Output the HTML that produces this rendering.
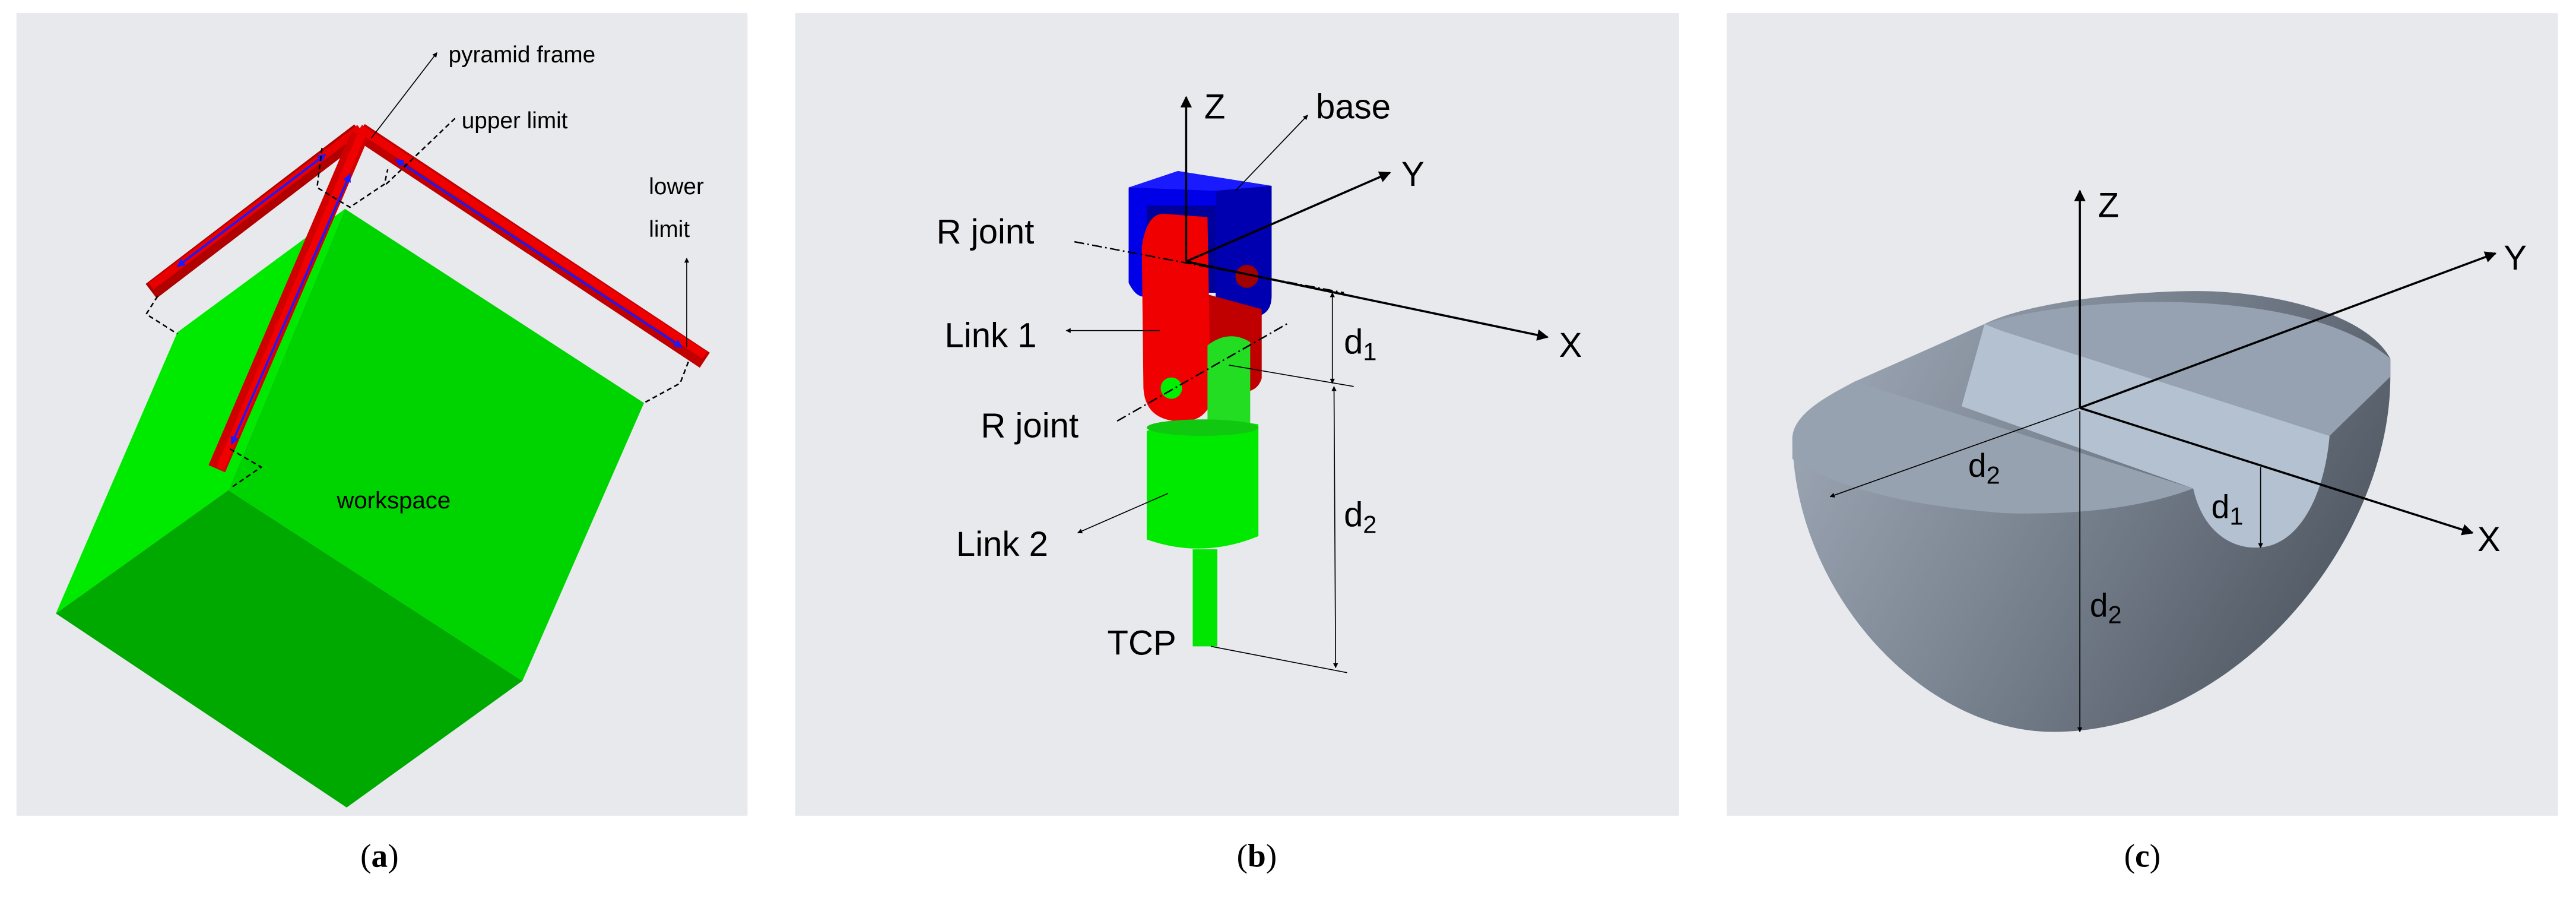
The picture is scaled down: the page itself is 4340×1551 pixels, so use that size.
<!DOCTYPE html>
<html><head><meta charset="utf-8"><style>
html,body{margin:0;padding:0;background:#fff;}
svg{display:block;}
text{font-family:"Liberation Sans",sans-serif;fill:#000;}
.cap{font-family:"Liberation Serif",serif;font-size:20px;}
</style></head><body>
<svg width="4340" height="1551" viewBox="0 0 1568 560" preserveAspectRatio="none" xmlns="http://www.w3.org/2000/svg">
<defs>
<marker id="ah" viewBox="0 0 10 10" refX="9" refY="5" markerUnits="userSpaceOnUse" markerWidth="8" markerHeight="7" orient="auto-start-reverse"><path d="M0,0L10,5L0,10z" fill="#000"/></marker>
<marker id="as" viewBox="0 0 10 10" refX="9" refY="5" markerUnits="userSpaceOnUse" markerWidth="4" markerHeight="3" orient="auto-start-reverse"><path d="M0,0L10,5L0,10z" fill="#000"/></marker>
<marker id="ab" viewBox="0 0 10 10" refX="9" refY="5" markerUnits="userSpaceOnUse" markerWidth="7" markerHeight="5" orient="auto-start-reverse"><path d="M0,0L10,5L0,10z" fill="#1a1aff"/></marker>
<linearGradient id="side" x1="0" y1="0" x2="1" y2="0.4"><stop offset="0" stop-color="#a3adbb"/><stop offset="0.5" stop-color="#7d8794"/><stop offset="1" stop-color="#545c67"/></linearGradient>
</defs>
<rect x="10" y="8" width="445" height="488" fill="#e8e9ed"/>
<rect x="484" y="8" width="538" height="488" fill="#e8e9ed"/>
<rect x="1051" y="8" width="506" height="488" fill="#e8e9ed"/>

<!-- Panel a -->
<polygon points="139,298 318,414 211,491 34,373" fill="#00a900"/>
<polygon points="34,373 108,202 210,127 139,298" fill="#00ea00"/>
<polygon points="139,298 210,127 392,245 318,414" fill="#00d400"/>
<g stroke-linecap="butt">
<line x1="219" y1="80" x2="92" y2="177" stroke="#b00000" stroke-width="11"/>
<line x1="219" y1="78" x2="92" y2="174" stroke="#e80000" stroke-width="5"/>
<line x1="219" y1="80" x2="429" y2="219" stroke="#c00000" stroke-width="11"/>
<line x1="219" y1="78" x2="429" y2="216" stroke="#ee0000" stroke-width="5"/>
<line x1="219" y1="82" x2="132" y2="285" stroke="#d00000" stroke-width="11"/>
<line x1="220" y1="82" x2="134" y2="285" stroke="#f00000" stroke-width="5"/>
</g>
<line x1="198" y1="94" x2="108" y2="162" stroke="#1a1aff" stroke-width="1.3" marker-start="url(#ab)" marker-end="url(#ab)"/>
<line x1="241" y1="97" x2="415" y2="211" stroke="#1a1aff" stroke-width="1.3" marker-start="url(#ab)" marker-end="url(#ab)"/>
<line x1="213" y1="106" x2="141" y2="270" stroke="#1a1aff" stroke-width="1.3" marker-start="url(#ab)" marker-end="url(#ab)"/>
<g stroke="#000" stroke-width="0.9" stroke-dasharray="3,2" fill="none">
<polyline points="96,180 89,191 108,203"/>
<polyline points="196,90 193,114 213,126 234,112 236,103"/>
<polyline points="419,220 414,233 392,245"/>
<polyline points="140,273 159,284 140,297"/>
<polyline points="235,112 278,71"/>
</g>
<line x1="226" y1="84" x2="266" y2="32" stroke="#000" stroke-width="0.6" marker-end="url(#as)"/>
<line x1="418" y1="211" x2="418" y2="157" stroke="#000" stroke-width="0.6" marker-end="url(#as)"/>
<text x="273" y="38" font-size="14">pyramid frame</text>
<text x="281" y="78" font-size="14">upper limit</text>
<text x="395" y="118" font-size="14">lower</text>
<text x="395" y="144" font-size="14">limit</text>
<text x="205" y="309" font-size="14.5">workspace</text>

<!-- Panel b -->
<rect x="696" y="118" width="46" height="60" fill="#00009a"/>
<path d="M687,114 L717,104 L774,113 L774,180 Q774,193 760,193 Q745,193 740,180 L740,125 L698,125 L698,180 Q692,182 687,172 Z" fill="#0000e8"/>
<path d="M740,113 L774,113 L774,180 Q774,193 760,193 Q745,193 740,180 Z" fill="#0000b0"/>
<path d="M687,114 L717,104 L774,113 L740,116 Z" fill="#1a1aff"/>
<circle cx="759" cy="168" r="7" fill="#a00000"/>
<path d="M735,179 L768,188 L768,230 Q765,240 752,238 L735,238 Z" fill="#c00000"/>
<path d="M708,130 L735,132 L737,245 Q732,258 715,256 Q697,254 696,236 L695,150 Q698,130 708,130 Z" fill="#f00000"/>
<path d="M735,210 Q748,200 761,208 L761,262 L735,268 Z" fill="#22dd22"/>
<circle cx="713" cy="236" r="6.5" fill="#00ee00"/>
<path d="M698,262 Q732,252 766,258 L766,326 Q732,340 698,328 Z" fill="#00ea00"/>
<ellipse cx="732" cy="260" rx="34" ry="5" fill="#11c811"/>
<rect x="726" y="334" width="15" height="59" fill="#00e600"/>
<g stroke="#000" stroke-width="1.3" fill="none">
<line x1="722" y1="159" x2="722" y2="59" marker-end="url(#ah)"/>
<line x1="722" y1="159" x2="846" y2="105" marker-end="url(#ah)"/>
<line x1="722" y1="159" x2="942" y2="205" marker-end="url(#ah)"/>
</g>
<g stroke="#000" stroke-width="0.9" stroke-dasharray="6,2,1,2" fill="none">
<line x1="654" y1="147" x2="818" y2="178"/>
<line x1="680" y1="256" x2="785" y2="196"/>
</g>
<g stroke="#000" stroke-width="0.6" fill="none">
<line x1="752" y1="116" x2="796" y2="70" marker-end="url(#as)"/>
<line x1="706" y1="201" x2="649" y2="201" marker-end="url(#as)"/>
<line x1="711" y1="300" x2="656" y2="324" marker-end="url(#as)"/>
<line x1="737" y1="393" x2="820" y2="409"/>
<line x1="748" y1="222" x2="824" y2="235"/>
<line x1="811" y1="178" x2="811" y2="233" marker-start="url(#as)" marker-end="url(#as)"/>
<line x1="812" y1="235" x2="813" y2="406" marker-start="url(#as)" marker-end="url(#as)"/>
</g>
<text x="733" y="72" font-size="21">Z</text>
<text x="801" y="72" font-size="21">base</text>
<text x="853" y="113" font-size="21">Y</text>
<text x="949" y="217" font-size="21">X</text>
<text x="570" y="148" font-size="21">R joint</text>
<text x="597" y="266" font-size="21">R joint</text>
<text x="575" y="211" font-size="21">Link 1</text>
<text x="582" y="338" font-size="21">Link 2</text>
<text x="674" y="398" font-size="21">TCP</text>
<text x="818" y="215" font-size="21">d<tspan font-size="15" dy="4">1</tspan></text>
<text x="818" y="320" font-size="21">d<tspan font-size="15" dy="4">2</tspan></text>

<!-- Panel c -->
<path d="M1091,266 C1092,360 1170,445 1250,445 C1360,445 1455,330 1455,229 L1455,218 C1440,190 1380,176 1332,177 C1280,178 1230,186 1208,197 L1129,232 C1110,242 1092,252 1091,266 Z" fill="url(#side)"/>
<path d="M1208,197 L1194,247 L1335,297 C1340,320 1355,333 1373,333 C1400,333 1415,300 1418,265 L1218,201 Z" fill="#b4c1d0"/>
<path d="M1208,197 C1260,180 1400,172 1455,218 L1455,229 L1418,265 L1218,201 Z" fill="#96a2b2"/>
<path d="M1129,232 L1335,297 Q1290,314 1220,312 Q1130,305 1091,279 L1091,266 C1092,252 1110,242 1129,232 Z" fill="#97a2b1"/>
<g stroke="#000" stroke-width="1.3" fill="none">
<line x1="1266" y1="248" x2="1266" y2="116" marker-end="url(#ah)"/>
<line x1="1266" y1="248" x2="1519" y2="154" marker-end="url(#ah)"/>
<line x1="1266" y1="248" x2="1505" y2="324" marker-end="url(#ah)"/>
</g>
<g stroke="#000" stroke-width="0.6" fill="none">
<line x1="1266" y1="248" x2="1114" y2="302" marker-end="url(#as)"/>
<line x1="1266" y1="250" x2="1266" y2="445" marker-end="url(#as)"/>
<line x1="1376" y1="284" x2="1376" y2="333" marker-end="url(#as)"/>
</g>
<text x="1277" y="132" font-size="21">Z</text>
<text x="1524" y="164" font-size="21">Y</text>
<text x="1508" y="335" font-size="21">X</text>
<text x="1198" y="290" font-size="20">d<tspan font-size="15" dy="4">2</tspan></text>
<text x="1272" y="375" font-size="20">d<tspan font-size="15" dy="4">2</tspan></text>
<text x="1346" y="315" font-size="20">d<tspan font-size="15" dy="4">1</tspan></text>

<text class="cap" x="231" y="527" text-anchor="middle">(<tspan font-weight="bold">a</tspan>)</text>
<text class="cap" x="765" y="527" text-anchor="middle">(<tspan font-weight="bold">b</tspan>)</text>
<text class="cap" x="1304" y="527" text-anchor="middle">(<tspan font-weight="bold">c</tspan>)</text>
</svg>
</body></html>
